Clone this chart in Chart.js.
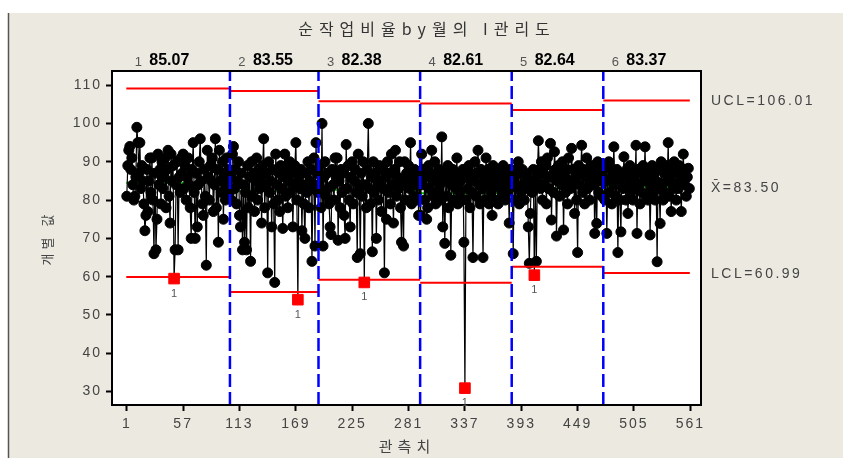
<!DOCTYPE html>
<html>
<head>
<meta charset="utf-8">
<script src="https://cdn.jsdelivr.net/npm/chart.js@4.4.1/dist/chart.umd.min.js"></script>
<style>
  html, body { margin: 0; padding: 0; background: #fff; }
  canvas { display: block; }
</style>
</head>
<body>
<canvas id="chart" width="843" height="458"></canvas>
<script>
// individual values per stage (month)
const stage1 = [
  81, 89, 93, 94, 88, 91, 84, 80, 81, 86,
  99, 95, 87, 95, 83, 89, 85, 79, 72, 76,
  88, 77, 85, 91, 82, 91, 80, 66, 87, 67,
  75, 92, 84, 88, 79, 90, 83, 86, 91, 78,
  88, 93, 81, 74, 92, 85, 89, 59.5, 67, 84,
  90, 67, 86, 82, 91, 87, 92, 83, 89, 80,
  86, 91, 84, 78, 70, 88, 95, 82, 70, 87,
  73, 84, 90, 96, 85, 79, 76, 88, 81, 63,
  93, 86, 80, 89, 85, 91, 77, 84, 96, 78,
  88, 69, 93, 85, 82, 90, 75, 87, 80, 91,
  84, 88, 82
];
const stage2 = [
  86, 80, 92, 94, 83, 88, 79, 85, 90, 76,
  73, 87, 67, 84, 69, 82, 67, 89, 78, 86,
  64, 90, 81, 87, 77, 85, 91, 80, 88, 83,
  86, 74, 89, 96, 78, 84, 87, 61, 90, 82,
  85, 73, 88, 79, 58.5, 92, 84, 80, 87, 77,
  89, 83, 72.6, 86, 92, 81, 88, 78, 85, 90,
  82, 87, 73, 84, 89, 95, 80, 54, 86, 83,
  88, 72, 84, 79, 70, 87, 82, 90, 78, 85,
  88, 64, 83, 91, 68, 95, 87, 82
];
const stage3 = [
  84, 89, 78, 100, 68, 86, 90, 81, 87, 83,
  79, 73, 71, 88, 84, 80, 91, 86, 91, 69.5,
  85, 78, 88, 82, 87, 76, 70, 94.5, 83, 89,
  80, 73, 86, 90, 79, 85, 88, 82, 65, 92,
  84, 66, 87, 81, 90, 58.5, 84, 78, 88, 100,
  83, 79, 86, 66.5, 90, 82, 87, 70, 85, 80,
  89, 84, 77, 88, 83, 61, 86, 75, 90, 82,
  87, 79, 92, 84, 74, 88, 93, 81, 86, 83,
  90, 78, 69, 85, 68, 90, 80, 87, 84, 89,
  83, 95, 79, 86, 81, 88, 84, 80, 87, 76,
  85
];
const stage4 = [
  76, 92, 84, 88, 80, 86, 75, 78, 89, 83,
  87, 93, 81, 85, 90, 79, 86, 82, 88, 84,
  80, 96.5, 73, 87, 68.7, 85, 81, 89, 78, 86,
  65.6, 84, 88, 80, 86, 83, 91, 79, 87, 82,
  85, 80, 88, 69, 30.9, 80, 86, 83, 89, 78,
  87, 82, 65, 85, 90, 81, 87, 93, 84, 79,
  88, 83, 65, 86, 80, 91, 84, 88, 79, 86,
  82, 76, 89, 84, 80, 88, 85, 79, 87, 83,
  86, 81, 89, 84, 80, 87, 82, 85, 74, 88,
  84
];
const stage5 = [
  84, 66, 86, 80, 88, 83, 90, 79, 87, 82,
  88, 84, 80, 87, 83, 86, 73, 63.5, 76.5, 85,
  82, 88, 60.4, 84, 64, 86, 95.5, 88, 83, 90,
  80, 87, 84, 89, 79, 91, 83, 86, 94.8, 74.8,
  86, 82, 92.6, 88, 70.6, 85, 89, 81, 87, 84,
  90, 72.2, 86, 82, 88, 79, 91, 85, 83, 93.5,
  84, 88, 76.5, 86, 80, 66.3, 89, 84, 87, 94.3,
  82, 88, 79, 86, 91, 83, 87, 80, 85, 89,
  84, 88.3, 71.3, 86, 73.9, 90, 82, 87, 85, 81,
  88
];
const stage6 = [
  86, 80, 89, 71.3, 85, 90, 82, 88, 79, 86,
  93.9, 84, 81, 88, 66.3, 85, 80, 71.7, 87, 83,
  91.3, 86, 80, 88, 76.5, 84, 89, 82, 87, 80,
  86, 83, 94.3, 71.3, 88, 84, 79, 87, 82, 89,
  85, 93.9, 81, 86, 80, 88, 70.9, 84, 89, 82,
  87, 80, 85, 63.9, 88, 83, 73.9, 90, 84, 80,
  87, 82, 89, 85, 95, 81, 86, 77, 88, 83,
  90, 84, 80, 87, 83, 89, 85, 77, 86, 92,
  84, 88, 81, 86, 88.3, 83
];

const stageNames = ['1', '2', '3', '4', '5', '6'];
const stageMeans = ['85.07', '83.55', '82.38', '82.61', '82.64', '83.37'];
const stageCL  = [84.5, 82.3, 82.6, 81.8, 83.05, 83.50];
const stageUCL = [109.1, 108.5, 105.8, 105.2, 103.5, 106.01];
const stageLCL = [59.9, 56.0, 59.2, 58.4, 62.6, 60.99];

const xTicks = [1, 57, 113, 169, 225, 281, 337, 393, 449, 505, 561];
const yTicks = [30, 40, 50, 60, 70, 80, 90, 100, 110];

const chartTitle = '순작업비율by월의 I관리도';
const xTitle = '관측치';
const yTitle = '개별 값';

const X_MIN = -13.7, X_MAX = 571.6, Y_MIN = 26.5, Y_MAX = 113.7;

// ---- build datasets ----
const stages = [stage1, stage2, stage3, stage4, stage5, stage6];
let next = 1;
const ranges = stages.map(s => {
  const r = { from: next, to: next + s.length - 1 };
  next += s.length;
  return r;
});
const stageOf = i => ranges.findIndex(r => i >= r.from && i <= r.to);

const points = stages.flat().map((v, i) => ({ x: i + 1, y: v }));
const outPoints = points.filter(p => {
  const s = stageOf(p.x);
  return p.y < stageLCL[s] || p.y > stageUCL[s];
});
const outSet = new Set(outPoints.map(p => p.x - 1));

const hline = (x0, x1, y, color, width, order) => ({
  data: [{ x: x0, y: y }, { x: x1, y: y }],
  showLine: true, pointRadius: 0, borderColor: color, borderWidth: width, order: order
});

const datasets = [];
ranges.forEach((r, k) => {
  datasets.push(hline(r.from - 0.5, r.to + 0.5, stageUCL[k], '#ff0000', 2, 2));
  datasets.push(hline(r.from - 0.5, r.to + 0.5, stageLCL[k], '#ff0000', 2, 2));
  datasets.push(hline(r.from - 0.5, r.to + 0.5, stageCL[k], '#00c000', 2, 4));
  if (k > 0) {
    datasets.push({
      data: [{ x: r.from - 0.5, y: Y_MIN }, { x: r.from - 0.5, y: Y_MAX }],
      showLine: true, pointRadius: 0, borderColor: '#0000ff', borderWidth: 2.5,
      borderDash: [13, 5], order: 1
    });
  }
});
datasets.push({
  data: points, showLine: true, borderColor: '#000', borderWidth: 1.2,
  pointRadius: c => outSet.has(c.dataIndex) ? 0 : 5,
  pointBackgroundColor: '#000', pointBorderColor: '#000', pointBorderWidth: 1, order: 3
});
datasets.push({
  data: outPoints, showLine: false, pointStyle: 'rect', pointRadius: 7.5,
  pointBackgroundColor: '#ff0000', pointBorderColor: '#ff0000', pointBorderWidth: 1, order: 0
});

// ---- background, frame and text ----
const decor = {
  id: 'decor',
  beforeDraw(chart) {
    const { ctx, chartArea: a } = chart;
    ctx.save();
    ctx.fillStyle = '#fff';
    ctx.fillRect(0, 0, chart.width, chart.height);
    ctx.fillStyle = '#ece9e1';
    ctx.fillRect(8, 13, chart.width - 8, chart.height - 13);
    ctx.strokeStyle = '#555';
    ctx.lineWidth = 1.5;
    ctx.beginPath();
    ctx.moveTo(8.5, 13);
    ctx.lineTo(8.5, chart.height);
    ctx.stroke();
    ctx.fillStyle = '#fff';
    ctx.fillRect(a.left, a.top, a.right - a.left, a.bottom - a.top);
    ctx.restore();
    ctx.letterSpacing = '2px';   // tick labels are spaced out
  },
  afterDraw(chart) {
    const { ctx, chartArea: a, scales: { x, y } } = chart;
    ctx.save();
    ctx.strokeStyle = '#000';
    ctx.lineWidth = 2;
    ctx.strokeRect(a.left, a.top, a.right - a.left, a.bottom - a.top);

    const put = (s, px, py, font, color, align, sp) => {
      ctx.font = font;
      ctx.fillStyle = color;
      ctx.letterSpacing = sp + 'px';
      ctx.textAlign = align;
      ctx.textBaseline = 'middle';
      const shift = align === 'center' ? sp / 2 : (align === 'right' ? sp : 0);
      ctx.fillText(s, px + shift, py);
    };

    put(chartTitle, 424, 29, '16px "Noto Sans CJK KR"', '#333', 'center', 6);

    ranges.forEach((r, k) => {
      const bx = x.getPixelForValue(r.from - 0.5);
      put(stageNames[k], bx + 12, 62, '13px "Liberation Sans"', '#555', 'center', 0);
      put(stageMeans[k], bx + 23, 61, 'bold 16px "Liberation Sans"', '#000', 'left', 0);
    });

    const last = stageUCL.length - 1;
    const lab = '14px "Liberation Sans", "DejaVu Sans"';
    put('UCL=' + stageUCL[last].toFixed(2), 711, y.getPixelForValue(stageUCL[last]) + 1, lab, '#444', 'left', 2.5);
    put('X\u0304=' + stageCL[last].toFixed(2), 711, y.getPixelForValue(stageCL[last]) + 1, lab, '#444', 'left', 2.5);
    put('LCL=' + stageLCL[last].toFixed(2), 711, y.getPixelForValue(stageLCL[last]) + 1, lab, '#444', 'left', 2.5);

    outPoints.forEach(p => {
      put('1', x.getPixelForValue(p.x), y.getPixelForValue(p.y) + 15, '11px "Liberation Sans"', '#555', 'center', 0);
    });

    put(xTitle, (a.left + a.right) / 2 - 2, 446, '15px "Noto Sans CJK KR"', '#444', 'center', 5);

    ctx.translate(47, (a.top + a.bottom) / 2 + 2);
    ctx.rotate(-Math.PI / 2);
    put(yTitle, 0, 0, '13px "Noto Sans CJK KR"', '#444', 'center', 4);
    ctx.restore();
  }
};

const tickFont = { family: 'Liberation Sans', size: 14 };

new Chart(document.getElementById('chart'), {
  type: 'scatter',
  data: { datasets: datasets },
  options: {
    responsive: false,
    animation: false,
    events: [],
    layout: { padding: { left: 0, top: 71, right: 142, bottom: 0 } },
    plugins: {
      legend: { display: false },
      tooltip: { enabled: false }
    },
    scales: {
      x: {
        type: 'linear',
        min: X_MIN,
        max: X_MAX,
        afterFit: s => { s.height = 53; },
        afterBuildTicks: s => { s.ticks = xTicks.map(v => ({ value: v })); },
        ticks: { autoSkip: false, maxRotation: 0, padding: 5, color: '#444', font: tickFont },
        grid: { drawOnChartArea: false, tickLength: 6, tickWidth: 2, tickColor: '#000' },
        border: { display: false }
      },
      y: {
        type: 'linear',
        min: Y_MIN,
        max: Y_MAX,
        afterFit: s => { s.width = 112; },
        afterBuildTicks: s => { s.ticks = yTicks.map(v => ({ value: v })); },
        ticks: { padding: 4, color: '#444', font: tickFont },
        grid: { drawOnChartArea: false, tickLength: 6, tickWidth: 2, tickColor: '#000' },
        border: { display: false }
      }
    }
  },
  plugins: [decor]
});
</script>
</body>
</html>
